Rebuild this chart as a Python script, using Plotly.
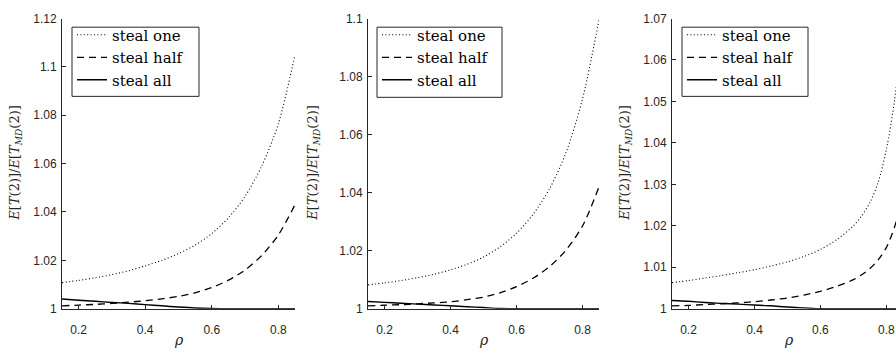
import plotly.graph_objects as go

W, H = 896, 358

rho = [0.15, 0.20, 0.25, 0.30, 0.35, 0.40, 0.45, 0.50, 0.55, 0.60, 0.65, 0.70, 0.75, 0.80, 0.85]
rho3 = [0.15, 0.20, 0.25, 0.30, 0.35, 0.40, 0.45, 0.50, 0.55, 0.60, 0.65, 0.70, 0.725, 0.75, 0.775, 0.80, 0.825, 0.85]

# panel 1
p1_one = [1.0108, 1.0117, 1.0128, 1.0141, 1.0157, 1.0177, 1.0200, 1.0228, 1.0263, 1.0311, 1.0376, 1.0465, 1.0590, 1.0765, 1.1050]
p1_half = [1.0012, 1.0015, 1.0018, 1.0022, 1.0027, 1.0033, 1.0041, 1.0051, 1.0066, 1.0088, 1.0118, 1.0160, 1.0220, 1.0305, 1.0430]
p1_all = [1.0040, 1.0035, 1.0031, 1.0026, 1.0022, 1.0017, 1.0012, 1.0007, 1.0003, 1.0001, 1.0, 1.0, 1.0, 1.0, 1.0]

# panel 2
p2_one = [1.0082, 1.0089, 1.0097, 1.0107, 1.0119, 1.0134, 1.0153, 1.0178, 1.0213, 1.0260, 1.0325, 1.0413, 1.0538, 1.0723, 1.0995]
p2_half = [1.0010, 1.0012, 1.0014, 1.0017, 1.0020, 1.0024, 1.0031, 1.0040, 1.0055, 1.0076, 1.0105, 1.0145, 1.0202, 1.0285, 1.0420]
p2_all = [1.0025, 1.0022, 1.0019, 1.0016, 1.0013, 1.0010, 1.0007, 1.0004, 1.0001, 1.0, 1.0, 1.0, 1.0, 1.0, 1.0]

# panel 3
p3_one = [1.0063, 1.0068, 1.0074, 1.0080, 1.0087, 1.0094, 1.0103, 1.0113, 1.0126, 1.0143, 1.0167, 1.0200, 1.0224, 1.0256, 1.0305, 1.0385, 1.0505, 1.0690]
p3_half = [1.0007, 1.0008, 1.0010, 1.0012, 1.0014, 1.0017, 1.0021, 1.0026, 1.0033, 1.0042, 1.0054, 1.0070, 1.0082, 1.0097, 1.0118, 1.0148, 1.0198, 1.0275]
p3_all = [1.0020, 1.0018, 1.0015, 1.0013, 1.0011, 1.0009, 1.0007, 1.0004, 1.0002, 1.0, 1.0, 1.0, 1.0, 1.0, 1.0, 1.0, 1.0, 1.0]

series_names = ["steal one", "steal half", "steal all"]

x_tickvals = [0.2, 0.4, 0.6, 0.8]
x_ticktext = ["0.2", "0.4", "0.6", "0.8"]
y1_tickvals = [1.0, 1.02, 1.04, 1.06, 1.08, 1.1, 1.12]
y1_ticktext = ["1", "1.02", "1.04", "1.06", "1.08", "1.1", "1.12"]
y2_tickvals = [1.0, 1.02, 1.04, 1.06, 1.08, 1.1]
y2_ticktext = ["1", "1.02", "1.04", "1.06", "1.08", "1.1"]
y3_tickvals = [1.0, 1.01, 1.02, 1.03, 1.04, 1.05, 1.06, 1.07]
y3_ticktext = ["1", "1.01", "1.02", "1.03", "1.04", "1.05", "1.06", "1.07"]

ylabel = "<i>E</i>[<i>T</i>(2)]/<i>E</i>[<i>T</i><sub><i>MD</i></sub>(2)]"

SERIF = "DejaVu Serif"

def px_x(p):
    return p / W

def px_y(p):
    return (H - p) / H

panels = [
    dict(x=rho, ys=[p1_one, p1_half, p1_all], dom=(62, 295), xr=[0.15, 0.85], yr=[1.0, 1.12],
         tv=y1_tickvals, tt=y1_ticktext, box=(72, 21, 199, 93), ylab_x=16),
    dict(x=rho, ys=[p2_one, p2_half, p2_all], dom=(368, 599), xr=[0.15, 0.85], yr=[1.0, 1.1],
         tv=y2_tickvals, tt=y2_ticktext, box=(377, 21, 502, 94), ylab_x=314),
    dict(x=rho3, ys=[p3_one, p3_half, p3_all], dom=(672, 896), xr=[0.15, 0.829], yr=[1.0, 1.07],
         tv=y3_tickvals, tt=y3_ticktext, box=(682, 21, 808, 93), ylab_x=626),
]

dashes = ["1px,2.4px", "7px,5px", "solid"]
widths = [1.1, 1.3, 1.4]

axcol = "#262626"
fig = go.Figure()
layout = dict(width=W, height=H, margin=dict(l=0, r=0, t=0, b=0),
              paper_bgcolor="white", plot_bgcolor="white", showlegend=True,
              font=dict(family=SERIF, size=15, color="black"),
              annotations=[], shapes=[])

for i, pnl in enumerate(panels):
    k = "" if i == 0 else str(i + 1)
    legname = "legend" + k
    for j in range(3):
        fig.add_trace(go.Scatter(
            x=pnl["x"], y=pnl["ys"][j], mode="lines", name=series_names[j],
            line=dict(color="black", width=widths[j], dash=dashes[j], shape="spline", smoothing=0.8),
            xaxis="x" + k, yaxis="y" + k, legend=legname, showlegend=True))
    common = dict(showline=True, linecolor=axcol, linewidth=1, ticks="inside", ticklen=4,
                  tickcolor=axcol, tickwidth=1, showgrid=False, zeroline=False,
                  tickfont=dict(family="Liberation Sans", size=12, color=axcol))
    layout["xaxis" + k] = dict(common, domain=[px_x(pnl["dom"][0]), px_x(pnl["dom"][1])],
                               range=pnl["xr"], tickvals=x_tickvals, ticktext=x_ticktext,
                               anchor="y" + k, ticklabelstandoff=10)
    layout["yaxis" + k] = dict(common, domain=[px_y(314), px_y(12)], range=pnl["yr"],
                               tickvals=pnl["tv"], ticktext=pnl["tt"], anchor="x" + k,
                               ticklabelstandoff=2)
    bx0, by0, bx1, by1 = pnl["box"]
    layout["shapes"].append(dict(type="rect", xref="paper", yref="paper",
                                 x0=px_x(bx0), x1=px_x(bx1), y0=px_y(by1), y1=px_y(by0),
                                 line=dict(color=axcol, width=1), fillcolor="white", layer="above"))
    layout[legname] = dict(x=px_x(bx0), y=px_y(by0 - 9), xanchor="left", yanchor="top",
                           bgcolor="rgba(0,0,0,0)", borderwidth=0,
                           font=dict(family=SERIF, size=15, color="black"),
                           tracegroupgap=0, itemwidth=30)
    layout["annotations"].append(dict(
        text=ylabel, x=px_x(pnl["ylab_x"]), y=px_y(163), xref="paper", yref="paper",
        showarrow=False, textangle=-90, xanchor="center", yanchor="middle",
        font=dict(family=SERIF, size=13, color=axcol)))
    cx = (pnl["dom"][0] + min(pnl["dom"][0] + 233, 905)) / 2
    layout["annotations"].append(dict(
        text="<i>ρ</i>", x=px_x(cx), y=px_y(347), xref="paper", yref="paper",
        showarrow=False, xanchor="center", yanchor="middle",
        font=dict(family=SERIF, size=14, color=axcol)))

fig.update_layout(**layout)
fig.write_html("out.html")
